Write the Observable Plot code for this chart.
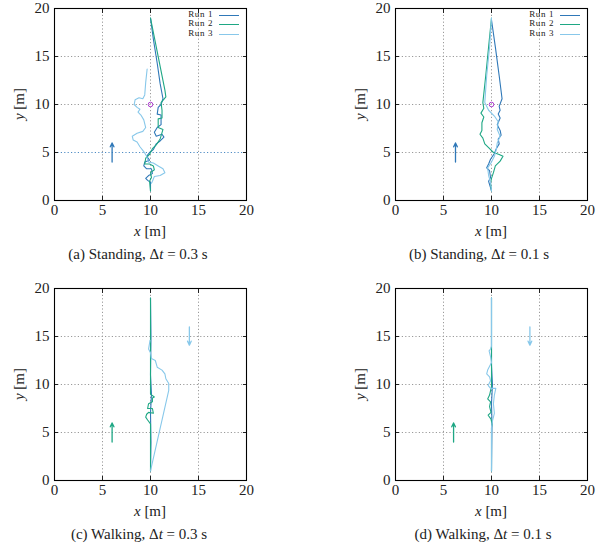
<!DOCTYPE html>
<html><head><meta charset="utf-8">
<script src="https://cdn.jsdelivr.net/npm/d3@7"></script>
<script src="https://cdn.jsdelivr.net/npm/@observablehq/plot@0.6"></script>
<style>
body{margin:0;background:#fff;}
#fig{position:relative;width:604px;height:547px;background:#fff;font-family:"Liberation Serif","DejaVu Serif",serif;color:#222;overflow:hidden;}
.panel{position:absolute;width:260px;height:225px;}
.panel svg{max-width:none !important;}
.lab{position:absolute;font-size:15px;white-space:nowrap;transform:translate(-50%,-50%);}
.ylab{position:absolute;font-size:15px;white-space:nowrap;transform:translate(-50%,-50%) rotate(-90deg);}
.cap{position:absolute;font-size:15px;white-space:nowrap;transform:translate(-50%,-50%);}
.leg{position:absolute;font-size:9px;line-height:9.4px;}
.leg div{position:relative;height:9.4px;}
.leg span{position:absolute;right:26px;top:0;white-space:nowrap;letter-spacing:0.6px;}
.leg i{position:absolute;right:0;top:5px;width:20px;height:0;border-top:1.2px solid;}
</style>
</head><body><div id="fig"></div>
<script>
// ---------- data ----------
const runs = ["Run 1", "Run 2", "Run 3"];
const runColors = ["#2f78b8", "#1ea784", "#88c8ea"];
const axisTicks = [0, 5, 10, 15, 20];
const gridTicks = [5, 10, 15];
const captions = ["(a) Standing, Δ<i>t</i> = 0.3 s", "(b) Standing, Δ<i>t</i> = 0.1 s",
                  "(c) Walking, Δ<i>t</i> = 0.3 s", "(d) Walking, Δ<i>t</i> = 0.1 s"];

// (a) Standing, dt = 0.3 s
const a_run1 = [[10.0,19.0],[10.3,16.8],[10.7,14.3],[11.0,12.2],[11.3,10.6],[11.1,10.0],[10.8,9.7],[10.7,9.0],[11.1,8.9],[11.1,7.9],[10.7,7.6],[10.4,7.1],[10.6,6.7],[11.2,6.9],[11.4,6.6],[11.0,6.2],[10.6,5.9],[10.3,5.3],[9.9,5.0],[9.6,4.6],[9.9,4.2],[9.4,4.0],[9.3,3.6],[9.6,3.3],[10.1,3.3],[10.2,2.8],[9.8,2.6],[9.5,2.3],[9.7,2.1],[10.0,1.9],[10.0,1.0]];
const a_run2 = [[10.0,19.0],[10.5,16.5],[11.0,14.0],[11.5,11.5],[11.6,10.8],[11.1,10.2],[11.2,9.4],[11.2,8.6],[10.8,8.5],[10.8,7.6],[11.3,7.4],[11.0,6.4],[10.6,5.8],[10.2,5.4],[9.9,4.8],[9.5,4.4],[9.4,3.8],[9.9,3.8],[10.3,3.6],[10.4,3.2],[10.0,2.9],[10.1,2.4],[9.9,2.0],[10.0,1.0]];
const a_run3 = [[9.65,13.7],[9.5,12.3],[9.4,11.0],[9.2,10.6],[8.8,10.7],[8.4,10.5],[8.3,10.0],[8.6,9.7],[8.9,9.5],[8.7,9.2],[9.0,8.9],[9.3,8.4],[9.5,7.6],[9.2,7.2],[8.6,7.0],[8.1,6.7],[8.2,6.3],[8.6,6.1],[8.9,5.6],[9.3,5.1],[9.6,4.6],[9.8,4.0],[10.3,3.9],[10.8,3.6],[11.3,3.3],[11.5,2.9],[11.0,2.6],[10.4,2.5],[10.2,2.0],[10.1,1.8]];
// (b) Standing, dt = 0.1 s
const b_run1 = [[10.0,18.8],[10.4,16.0],[10.8,13.0],[11.1,10.6],[10.8,9.8],[10.9,9.4],[10.7,9.0],[10.9,8.6],[10.6,7.9],[10.9,7.3],[11.0,6.8],[10.7,6.4],[10.8,5.9],[10.5,5.4],[10.3,4.9],[9.9,4.3],[9.7,3.8],[9.5,3.4],[9.8,3.1],[9.9,2.4],[9.7,2.0],[10.0,1.0]];
const b_run2 = [[10.0,19.0],[9.7,16.0],[9.4,13.0],[9.1,10.2],[9.2,9.6],[8.9,9.1],[9.2,8.7],[9.0,8.1],[9.0,7.3],[8.8,6.9],[9.1,6.5],[9.3,5.9],[9.7,5.5],[10.2,5.0],[10.8,4.8],[11.2,4.6],[10.9,4.1],[10.4,3.6],[10.2,2.9],[10.0,2.3],[9.9,1.8],[10.0,1.0]];
const b_run3 = [[10.0,19.0],[9.8,16.0],[9.5,13.0],[9.3,10.2],[9.7,9.4],[10.3,8.8],[10.7,8.2],[10.6,7.4],[10.9,6.7],[10.6,6.0],[10.5,5.3],[10.3,4.6],[10.0,4.0],[9.6,3.4],[9.7,2.6],[9.9,1.9],[10.0,1.0]];
// (c) Walking, dt = 0.3 s
const c_run1 = [[10.0,19.0],[10.05,15.0],[10.0,11.0],[10.1,9.0],[10.0,7.0],[10.05,4.0],[10.0,1.0]];
const c_run2 = [[10.0,19.0],[10.0,14.0],[10.0,9.0],[10.4,8.7],[10.2,8.6],[10.2,8.2],[9.8,8.0],[9.7,7.5],[10.2,7.5],[10.3,7.0],[9.8,7.1],[9.6,6.9],[9.5,6.6],[9.7,6.3],[10.0,5.9],[10.0,5.5],[10.0,1.0]];
const c_run3 = [[9.95,14.6],[9.8,13.7],[10.0,13.3],[10.1,12.7],[10.5,12.5],[10.7,11.8],[11.2,11.5],[11.5,11.1],[11.6,10.6],[11.9,10.1],[11.9,9.4],[10.0,1.0]];
// (d) Walking, dt = 0.1 s
const d_run1 = [[10.0,19.0],[10.0,12.0],[10.1,10.0],[10.0,8.0],[10.05,6.0],[10.0,1.0]];
const d_run2 = [[10.0,19.0],[10.0,9.8],[9.8,8.9],[9.6,8.5],[9.9,8.2],[9.8,7.7],[9.95,7.1],[9.65,6.8],[9.95,6.4],[10.05,5.9],[10.0,5.5],[10.0,1.0]];
const d_run3 = [[10.0,19.0],[10.0,14.0],[9.9,13.7],[9.75,13.5],[9.9,12.9],[10.0,12.3],[9.6,11.5],[9.5,11.1],[9.8,10.8],[9.9,10.4],[9.65,9.9],[9.9,9.6],[10.45,9.6],[10.3,8.9],[10.2,8.0],[10.3,7.0],[10.1,6.2],[10.0,5.6],[10.0,1.0]];

// direction arrows: [x1, y1, x2, y2, run index]
const a_arrows = [[6.0, 4.0, 6.0, 6.0, 0]];
const b_arrows = [[6.25, 4.0, 6.25, 6.0, 0]];
const c_arrows = [[6.0, 4.0, 6.0, 6.0, 1], [14.05, 16.0, 14.05, 14.1, 2]];
const d_arrows = [[6.05, 4.0, 6.05, 6.0, 1], [14.0, 16.0, 14.0, 14.1, 2]];
// target marker (standing)
const targetMarker = [[10, 10]];
// highlighted line in (a)
const a_blueLine = [5];

// ---------- drawing ----------
const fig = document.getElementById("fig");
function add(tag, cls, html, left, top) {
  const el = document.createElement(tag);
  el.className = cls; el.innerHTML = html;
  el.style.left = left + "px"; el.style.top = top + "px";
  fig.appendChild(el); return el;
}

function panel(cfg) {
  const series = cfg.runs.flatMap((pts, i) => pts.map(([x, y]) => ({x, y, run: runs[i]})));
  const arrows = cfg.arrows.map(([x1, y1, x2, y2, r]) => ({x1, y1, x2, y2, color: runColors[r]}));
  const marks = [
    Plot.gridX(gridTicks, {stroke: "#9a9a9a", strokeOpacity: 1, strokeDasharray: "1.2,2.2"}),
    Plot.gridY(cfg.grayY, {stroke: "#9a9a9a", strokeOpacity: 1, strokeDasharray: "1.2,2.2"}),
  ];
  if (cfg.blueY) marks.push(Plot.ruleY(cfg.blueY, {stroke: "#4f8cc4", strokeDasharray: "1.2,2.2"}));
  marks.push(
    Plot.line(series, {x: "x", y: "y", z: "run", stroke: "run", strokeWidth: 1.1}),
    Plot.arrow(arrows, {x1: "x1", y1: "y1", x2: "x2", y2: "y2", stroke: "color", strokeWidth: 1.3, headLength: 5, headAngle: 50})
  );
  if (cfg.marker) marks.push(Plot.dot(cfg.marker, {x: d => d[0], y: d => d[1], r: 2.3, stroke: "#b03fd3", strokeWidth: 1, fill: "none"}));
  marks.push(
    Plot.axisX({anchor: "bottom", ticks: axisTicks, tickSize: 0, tickPadding: 4, label: null}),
    Plot.axisY({anchor: "left", ticks: axisTicks, tickSize: 0, tickPadding: 5, label: null}),
    Plot.axisX({anchor: "bottom", ticks: axisTicks, tickSize: 4, dy: -4, tickFormat: () => "", label: null}),
    Plot.axisX({anchor: "top", ticks: axisTicks, tickSize: 4, dy: 4, tickFormat: () => "", label: null}),
    Plot.axisY({anchor: "left", ticks: axisTicks, tickSize: 4, dx: 4, tickFormat: () => "", label: null}),
    Plot.axisY({anchor: "right", ticks: axisTicks, tickSize: 4, dx: -4, tickFormat: () => "", label: null}),
    Plot.frame({stroke: "#000", strokeWidth: 1.1})
  );
  const svg = Plot.plot({
    width: 260, height: 225,
    marginLeft: 54, marginRight: 14, marginTop: 8, marginBottom: 25,
    x: {domain: [0, 20]}, y: {domain: [0, 20]},
    color: {domain: runs, range: runColors},
    style: {fontFamily: "Liberation Serif, DejaVu Serif, serif", fontSize: "15px", color: "#222", background: "transparent", maxWidth: "none"},
    marks
  });
  const wrap = document.createElement("div");
  wrap.className = "panel";
  wrap.style.left = cfg.left + "px"; wrap.style.top = cfg.top + "px";
  wrap.appendChild(svg); fig.appendChild(wrap);

  const px = cfg.left + 54, py = cfg.top + 8;
  add("div", "lab", "<i>x</i> [m]", px + 96, py + 223);
  add("div", "ylab", "<i>y</i> [m]", cfg.left + 19, py + 96);
  add("div", "cap", cfg.caption, cfg.capX, py + 246);
  if (cfg.legend) {
    const leg = add("div", "leg", "", 0, py + 2);
    leg.style.left = (px + 125) + "px";
    leg.style.width = "60px";
    runs.forEach((r, i) => {
      const row = document.createElement("div");
      row.innerHTML = `<span>${r}</span><i style="border-color:${runColors[i]}"></i>`;
      leg.appendChild(row);
    });
  }
}

panel({left: 0, top: 0, runs: [a_run1, a_run2, a_run3], arrows: a_arrows, marker: targetMarker,
       grayY: [10, 15], blueY: a_blueLine, legend: true, caption: captions[0], capX: 138});
panel({left: 341, top: 0, runs: [b_run1, b_run2, b_run3], arrows: b_arrows, marker: targetMarker,
       grayY: gridTicks, legend: true, caption: captions[1], capX: 479});
panel({left: 0, top: 280, runs: [c_run1, c_run2, c_run3], arrows: c_arrows,
       grayY: gridTicks, caption: captions[2], capX: 139});
panel({left: 341, top: 280, runs: [d_run1, d_run2, d_run3], arrows: d_arrows,
       grayY: gridTicks, caption: captions[3], capX: 483});
</script>
</body></html>
